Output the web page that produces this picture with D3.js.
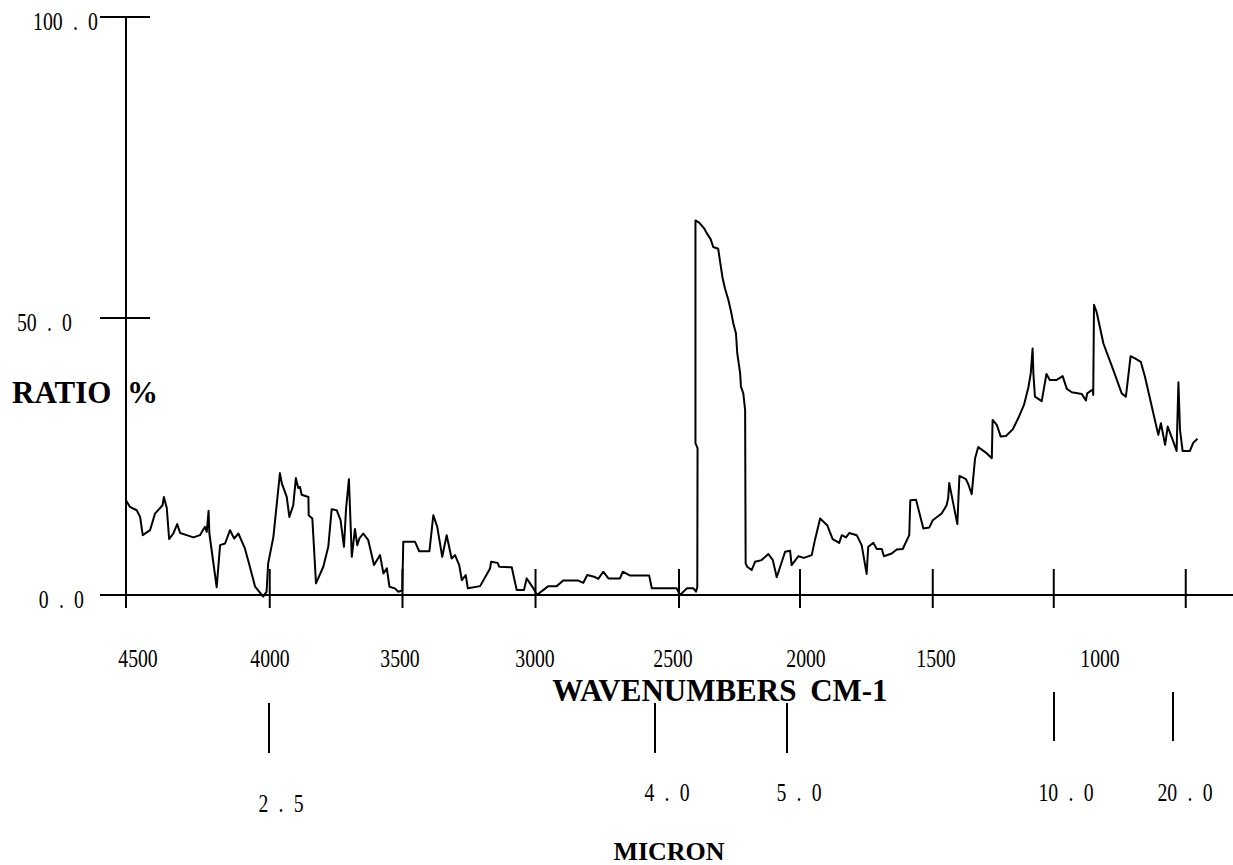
<!DOCTYPE html>
<html><head><meta charset="utf-8">
<script src="https://cdn.jsdelivr.net/npm/d3@7"></script>
<style>
body{margin:0;background:#fff}
svg{display:block}
text{font-family:"Liberation Serif","Times New Roman",serif;fill:#000}
</style>
</head><body><svg id="chart" width="1233" height="865"></svg>
<script>
// ---- data (wavenumber cm-1, ratio %) ----
const wavenumbers = [4550,4535,4509,4496,4486,4458,4439,4410,4405,4394,4385,4369,4354,4343,4318,4292,4267,4248,4241,4234,4231,4203,4190,4171,4152,4136,4120,4095,4076,4056,4025,4012,4006,3986,3961,3954,3935,3925,3910,3900,3891,3884,3878,3852,3851,3837,3823,3795,3776,3763,3744,3729,3716,3708,3697,3686,3674,3665,3657,3642,3623,3601,3578,3565,3552,3542,3521,3508,3493,3489,3444,3428,3389,3374,3359,3340,3323,3304,3291,3275,3265,3250,3242,3195,3157,3153,3128,3122,3074,3055,3027,3017,2991,2978,2934,2902,2877,2819,2800,2785,2759,2743,2724,2704,2660,2649,2621,2548,2538,2443,2430,2404,2379,2369,2364,2363,2371,2371,2356,2338,2328,2313,2303,2284,2277,2267,2258,2245,2236,2226,2216,2211,2200,2197,2188,2181,2179,2173,2156,2143,2118,2092,2075,2060,2028,2009,2003,1977,1956,1926,1914,1894,1867,1846,1821,1811,1795,1782,1754,1735,1716,1710,1690,1677,1658,1650,1620,1601,1578,1553,1549,1527,1499,1476,1463,1429,1410,1404,1400,1369,1361,1336,1327,1314,1301,1289,1257,1237,1234,1218,1203,1183,1157,1136,1114,1097,1088,1081,1078,1072,1046,1028,1015,990,966,950,931,893,877,872,851,849,846,836,810,772,740,724,706,689,667,651,619,600,590,574,564,545,530,523,517,507,479,466,450];
const ratio = [17.1,15.9,15.3,14.1,10.8,11.7,14.7,16.2,17.7,15.7,10.1,11.1,12.8,11.2,10.8,10.4,10.8,12.3,11.4,15.2,11.1,1.4,9.0,9.3,11.7,10.2,11.1,8.4,5.1,1.5,-0.3,0.6,5.7,10.5,22.0,20.2,17.7,14.1,16.2,21.1,19.3,19.5,18.1,17.7,14.4,13.8,2.1,5.1,8.7,15.5,15.3,13.5,8.7,15.6,20.9,6.9,11.9,9.0,10.2,11.1,9.9,5.4,7.2,3.9,4.8,1.5,1.2,0.6,0.8,9.6,9.6,7.9,7.9,14.4,12.3,6.9,10.8,6.6,7.2,5.4,2.7,3.6,1.2,1.6,4.8,6.0,5.8,5.1,5.0,0.9,0.9,3.0,1.2,0.0,1.6,1.6,2.6,2.6,2.2,3.6,3.3,2.9,4.2,3.0,3.0,4.2,3.5,3.5,1.2,1.2,0.0,1.2,1.2,0.6,1.5,26.5,27.4,66.2,65.8,64.9,64.1,63.1,61.8,61.5,59.4,56.6,54.9,53.0,51.3,49.0,47.2,43.6,40.0,37.6,36.4,33.4,5.7,5.1,4.5,6.0,6.3,7.4,6.3,3.2,7.8,8.0,5.4,7.0,6.7,7.2,9.9,13.8,12.6,10.1,9.4,10.8,10.4,11.2,10.8,9.0,3.8,8.7,9.4,8.3,8.3,7.0,7.5,8.2,8.3,10.8,17.1,17.2,12.0,12.2,13.5,14.7,16.2,17.5,20.2,12.8,21.5,20.9,20.0,18.2,24.7,26.7,25.6,24.7,31.6,30.7,28.6,28.7,29.9,31.9,34.3,37.5,40.0,44.5,40.0,35.8,35.0,39.9,38.8,38.8,39.5,37.2,36.6,36.3,35.1,36.4,37.1,36.1,52.2,51.0,45.4,40.6,36.4,35.8,43.1,42.7,42.1,39.4,32.8,28.9,31.0,27.1,30.4,28.0,26.0,38.4,29.8,26.0,26.0,27.5,28.2];

const yTickValues = [0, 50, 100];
const yTickLabels = ["0 . 0", "50 . 0", "100 . 0"];
const xTickMarks = [4000, 3492, 2983, 2434, 1971, 1463, 1000, 495];
const xLabelValues = [4500, 4000, 3500, 3000, 2500, 2000, 1500, 1000];
const xLabelTexts = ["4500", "4000", "3500", "3000", "2500", "2000", "1500", "1000"];
const micronValues = [2.5, 4.0, 5.0, 10.0, 20.0];
const micronLabels = ["2 . 5", "4 . 0", "5 . 0", "10 . 0", "20 . 0"];

// ---- layout ----
const svg = d3.select("#chart");
const x = d3.scaleLinear().domain([4550, 450]).range([126, 1197.5]);
const y = d3.scaleLinear().domain([0, 50, 100]).range([595, 318, 17]);
const labelX = d3.scaleLinear().domain(xLabelValues).range([138, 270, 400, 535, 673, 806, 936, 1100]);
const micronX = d3.scaleLinear().domain(micronValues).range([269, 655, 787, 1054, 1173]);
const yLabelRight = {0: 84, 50: 72, 100: 98};

const axisG = svg.append("g").attr("stroke", "#000").attr("stroke-width", 2).attr("fill", "none");
axisG.append("line").attr("x1", 126).attr("x2", 126).attr("y1", y(100)).attr("y2", 608);
axisG.selectAll("line.yt").data(yTickValues.filter(d => d > 0)).join("line")
  .attr("class", "yt").attr("x1", 100).attr("x2", 150).attr("y1", d => y(d)).attr("y2", d => y(d));
axisG.append("line").attr("x1", 100).attr("x2", 1233).attr("y1", y(0)).attr("y2", y(0));
axisG.selectAll("line.xt").data(xTickMarks).join("line")
  .attr("class", "xt").attr("x1", d => x(d)).attr("x2", d => x(d)).attr("y1", 569).attr("y2", 608);
axisG.selectAll("line.mt").data(micronValues).join("line")
  .attr("class", "mt").attr("x1", d => micronX(d)).attr("x2", d => micronX(d))
  .attr("y1", d => d >= 10 ? 692 : 703).attr("y2", d => d >= 10 ? 741 : 753);

const condensed = "scale(0.76,1)";
svg.selectAll("text.yl").data(yTickValues).join("text")
  .attr("class", "yl").attr("text-anchor", "end").style("font-size", "26px").style("word-spacing", "7px")
  .attr("transform", d => `translate(${yLabelRight[d]},${y(d) + 13}) ${condensed}`)
  .text((d, i) => yTickLabels[i]);

svg.selectAll("text.xl").data(xLabelValues).join("text")
  .attr("class", "xl").attr("text-anchor", "middle").style("font-size", "26px")
  .attr("transform", d => `translate(${labelX(d)},${667}) ${condensed}`)
  .text((d, i) => xLabelTexts[i]);

svg.selectAll("text.ml").data(micronValues).join("text")
  .attr("class", "ml").attr("text-anchor", "middle").style("font-size", "26px").style("word-spacing", "7px")
  .attr("transform", d => `translate(${micronX(d) + 12},${d === 2.5 ? 812 : 801}) ${condensed}`)
  .text((d, i) => micronLabels[i]);

svg.append("text").attr("x", 12).attr("y", 403).style("font-size", "31px").style("font-weight", "bold")
  .style("word-spacing", "8px").text("RATIO %");
svg.append("text").attr("x", 720).attr("y", 701).attr("text-anchor", "middle").style("font-size", "31px")
  .style("font-weight", "bold").style("word-spacing", "6px").text("WAVENUMBERS CM-1");
svg.append("text").attr("x", 669).attr("y", 860).attr("text-anchor", "middle").style("font-size", "26px")
  .style("font-weight", "bold").text("MICRON");

const line = d3.line().x((d, i) => x(wavenumbers[i])).y((d, i) => y(ratio[i]));
svg.append("path").datum(ratio).attr("d", line).attr("fill", "none")
  .attr("stroke", "#000").attr("stroke-width", 2).attr("stroke-linejoin", "round");
</script>
</body></html>
